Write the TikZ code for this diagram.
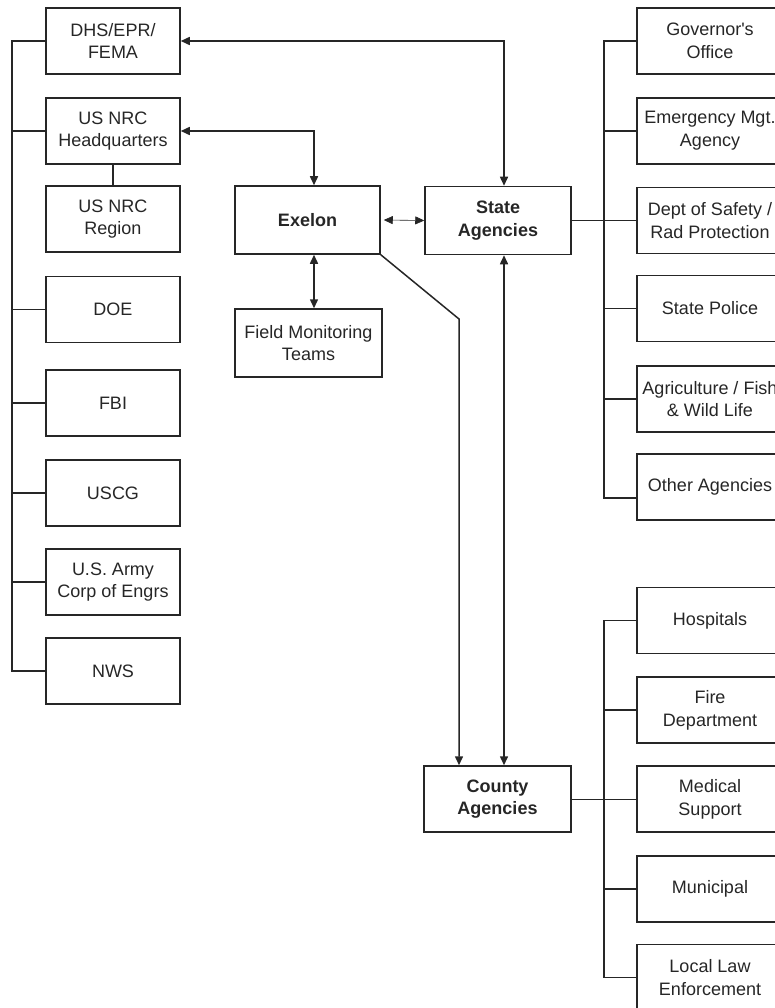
\documentclass[tikz,border=0pt]{standalone}
\usepackage{fontspec}
\setmainfont{Liberation Sans}
\usetikzlibrary{arrows.meta,calc}
\definecolor{ink}{HTML}{262626}
\begin{document}
\begin{tikzpicture}[x=1pt,y=-1pt,
  box/.style={draw=ink, line width=1.5pt, minimum height=66pt, align=center, inner sep=0pt,
    font=\fontsize{18}{22.7}\selectfont, text=ink},
  lbox/.style={box, minimum width=134pt},
  rbox/.style={box, minimum width=146pt},
  cbox/.style={box, minimum width=146pt, minimum height=68pt, font=\fontsize{18}{22.7}\selectfont\bfseries},
  conn/.style={draw=ink, line width=1.5pt},
  thinline/.style={draw=ink, line width=0.6pt},
  tip/.tip={Triangle[length=9pt,width=8pt]},
  arr/.style={conn, tip-tip},
  tarr/.style={thinline, tip-tip},
]
\useasboundingbox (0,0) rectangle (775,1008);

% left column
\node[lbox] (dhs)  at (113,41)    {DHS/EPR/\\FEMA};
\node[lbox] (hq)   at (113,131)   {US NRC\\Headquarters};
\node[lbox] (reg)  at (113,219)   {US NRC\\Region};
\node[lbox] (doe)  at (113,309.5) {DOE};
\node[lbox] (fbi)  at (113,403)   {FBI};
\node[lbox] (uscg) at (113,493)   {USCG};
\node[lbox] (army) at (113,582)   {U.S. Army\\Corp of Engrs};
\node[lbox] (nws)  at (113,671)   {NWS};

% centre
\node[cbox, minimum width=145pt] (exelon) at (307.5,220) {Exelon};
\node[box, minimum width=147pt, minimum height=68pt] (fmt) at (308.5,343) {Field Monitoring\\Teams};
\node[cbox] (state)  at (498,220.5) {State\\Agencies};
\node[cbox, minimum width=147pt, minimum height=66pt] (county) at (497.5,799) {County\\Agencies};

% right column, state
\node[rbox] (gov)    at (710,41)    {Governor\textquotesingle s\\Office};
\node[rbox] (ema)    at (710,131)   {Emergency Mgt.\\Agency};
\node[rbox] (dept)   at (710,220.5) {Dept of Safety /\\Rad Protection};
\node[rbox] (police) at (710,308.5) {State Police};
\node[rbox] (agri)   at (710,399)   {Agriculture / Fish\\\& Wild Life};
\node[rbox] (other)  at (710,487)   {Other Agencies};

% right column, county
\node[rbox] (hosp) at (710,620.5) {Hospitals};
\node[rbox] (fire) at (710,710)   {Fire\\Department};
\node[rbox] (med)  at (710,799)   {Medical\\Support};
\node[rbox] (muni) at (710,889)   {Municipal};
\node[rbox] (law)  at (710,977.5) {Local Law\\Enforcement};

% spines
\coordinate (ls) at (12,0);
\coordinate (rs) at (604,0);
\coordinate (bend) at (459,319);

\draw[conn] (dhs.west) -- (dhs.west -| ls) -- (nws.west -| ls) -- (nws.west);
\foreach \n in {hq,doe,fbi,uscg,army}
  \draw[conn] (\n.west) -- (\n.west -| ls);
\draw[conn] (hq.south) -- (reg.north);

\draw[conn] (gov.west) -- (gov.west -| rs) -- ([yshift=-11pt]other.west -| rs) -- ([yshift=-11pt]other.west);
\foreach \n in {ema,police,agri}
  \draw[conn] (\n.west) -- (\n.west -| rs);
\draw[thinline] (state.east) -- (dept.west);

\draw[conn] (hosp.west) -- (hosp.west -| rs) -- (law.west -| rs) -- (law.west);
\foreach \n in {fire,muni}
  \draw[conn] (\n.west) -- (\n.west -| rs);
\draw[thinline] (county.east) -- (med.west);

% arrows
\draw[arr] (dhs.east) -| ([xshift=6pt]state.north);
\draw[arr] (hq.east) -| ([xshift=6.5pt]exelon.north);
\draw[tarr] ([xshift=3pt]exelon.east) -- (state.west);
\draw[arr] ([xshift=6.5pt]exelon.south) -- ([xshift=6.5pt]exelon.south |- fmt.north);
\draw[arr] ([xshift=6pt]state.south) -- ([xshift=6pt]state.south |- county.north);
\draw[conn, -tip] (exelon.south east) -- (bend) -- (bend |- county.north);
\end{tikzpicture}
\end{document}
